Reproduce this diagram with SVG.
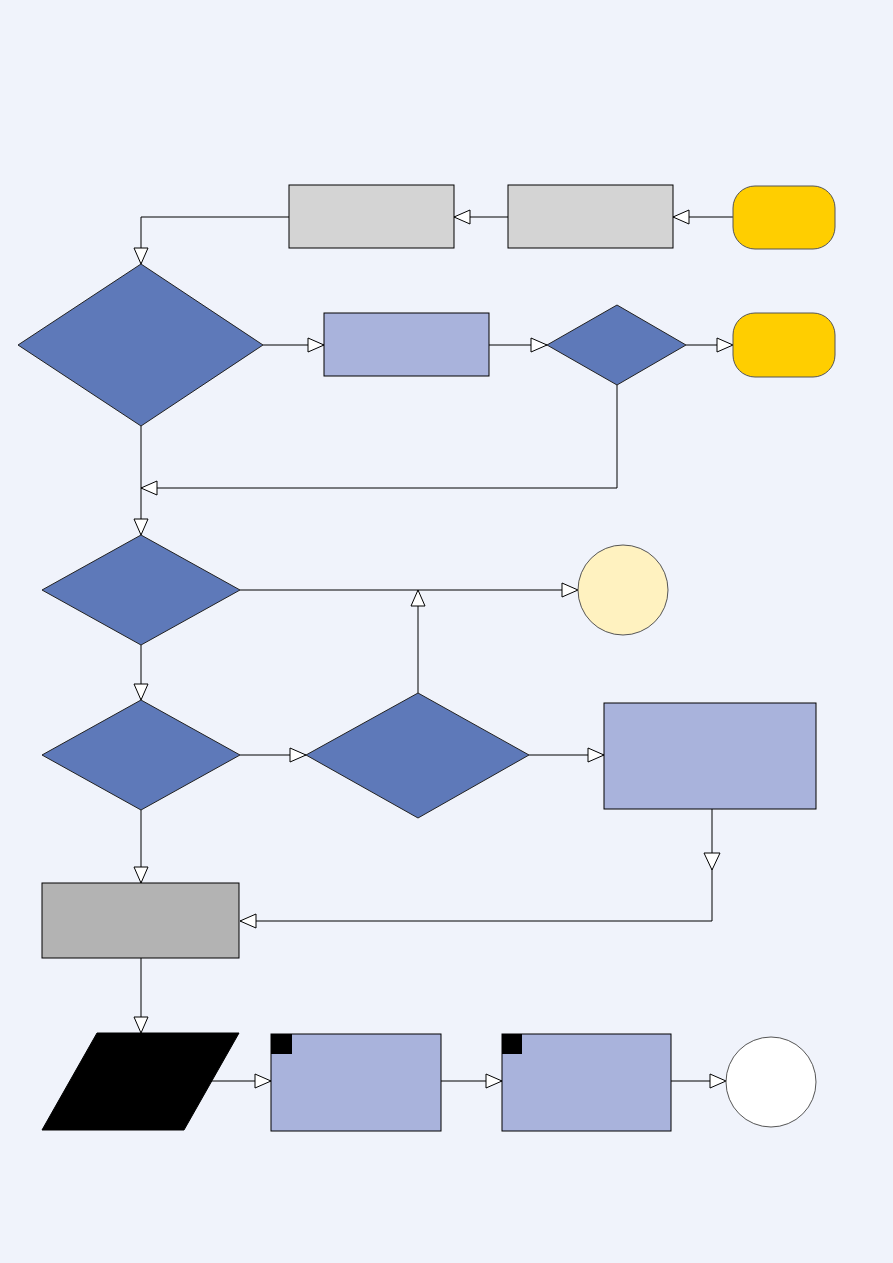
<svg xmlns="http://www.w3.org/2000/svg" width="893" height="1263" viewBox="0 0 893 1263">
<style>
.gray{fill:#d4d4d4;stroke:#000;stroke-width:1}
.dgray{fill:#b3b3b3;stroke:#000;stroke-width:1}
.yel{fill:#ffce00;stroke:#555;stroke-width:1}
.dia{fill:#5e79b9;stroke:#222;stroke-width:1}
.proc{fill:#a9b3dc;stroke:#000;stroke-width:1}
.conn{fill:none;stroke:#000;stroke-width:1;marker-end:url(#arr)}
</style>
<defs>
<marker id="arr" markerUnits="userSpaceOnUse" markerWidth="18" markerHeight="16" viewBox="-1 -1 18 16" refX="16" refY="7" orient="auto">
<path d="M0,0 L16,7 L0,14 Z" fill="#fff" stroke="#000" stroke-width="1"/>
</marker>
</defs>
<rect width="893" height="1263" fill="#f0f3fb"/>
<g id="connectors">
<path class="conn" d="M733,217 L673,217"/>
<path class="conn" d="M508,217 L454,217"/>
<path class="conn" d="M289,217 L141,217 L141,264"/>
<path class="conn" d="M263,345 L324,345"/>
<path class="conn" d="M489,345 L547,345"/>
<path class="conn" d="M686,345 L733,345"/>
<path class="conn" d="M617,385 L617,488 L141,488"/>
<path class="conn" d="M141,426 L141,535"/>
<path class="conn" d="M240,590 L578,590"/>
<path class="conn" d="M418,693 L418,590"/>
<path class="conn" d="M141,645 L141,700"/>
<path class="conn" d="M240,755 L306,755"/>
<path class="conn" d="M529,755 L604,755"/>
<path class="conn" d="M712,809 L712,921 L240,921"/>
<path d="M704,853 L720,853 L712,870 Z" fill="#fff" stroke="#000" stroke-width="1"/>
<path class="conn" d="M141,810 L141,883"/>
<path class="conn" d="M141,958 L141,1033"/>
<path class="conn" d="M212,1081 L271,1081"/>
<path class="conn" d="M441,1081 L502,1081"/>
<path class="conn" d="M671,1081 L726,1081"/>
</g>
<g id="nodeC"><rect class="yel" x="733" y="186" width="102" height="63" rx="22"/></g>
<g id="nodeB"><rect class="gray" x="508" y="185" width="165" height="63"/></g>
<g id="nodeA"><rect class="gray" x="289" y="185" width="165" height="63"/></g>
<g id="dec1"><polygon class="dia" points="141,264 263,345 141,426 18,345"/></g>
<g id="nodeD"><rect class="proc" x="324" y="313" width="165" height="63"/></g>
<g id="dec2"><polygon class="dia" points="617,305 686,345 617,385 547,345"/></g>
<g id="nodeE"><rect class="yel" x="733" y="313" width="102" height="64" rx="22"/></g>
<g id="dec3"><polygon class="dia" points="141,535 240,590 141,645 42,590"/></g>
<g id="nodeF"><ellipse cx="623" cy="590" rx="45" ry="45" fill="#fff2c0" stroke="#555" stroke-width="1"/></g>
<g id="dec4"><polygon class="dia" points="141,700 240,755 141,810 42,755"/></g>
<g id="dec5"><polygon class="dia" points="418,693 529,755 418,818 306,755"/></g>
<g id="nodeG"><rect class="proc" x="604" y="703" width="212" height="106"/></g>
<g id="nodeH"><rect class="dgray" x="42" y="883" width="197" height="75"/></g>
<g id="nodeP"><polygon points="97,1033 239,1033 184,1130 42,1130" fill="#000" stroke="#000"/></g>
<g id="nodeI"><rect class="proc" x="271" y="1034" width="170" height="97"/><rect x="271" y="1034" width="21" height="20" fill="#000"/></g>
<g id="nodeJ"><rect class="proc" x="502" y="1034" width="169" height="97"/><rect x="502" y="1034" width="20" height="20" fill="#000"/></g>
<g id="nodeK"><ellipse cx="771" cy="1082" rx="45" ry="45" fill="#fff" stroke="#555" stroke-width="1"/></g>
</svg>
